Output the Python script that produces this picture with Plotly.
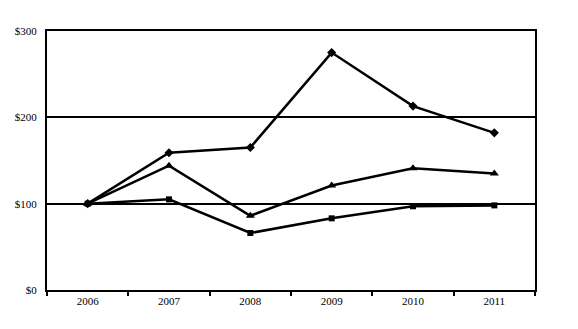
import plotly.graph_objects as go

years = ["2006", "2007", "2008", "2009", "2010", "2011"]
series_diamond = [100, 159, 165, 275, 213, 182]
series_triangle = [100, 144, 86, 121, 141, 135]
series_square = [100, 105, 66, 83, 97, 98]
y_ticks = [0, 100, 200, 300]
y_labels = ["$0", "$100", "$200", "$300"]

fig = go.Figure()
for vals, sym, size in [(series_diamond, "diamond", 7), (series_triangle, "triangle-up", 8), (series_square, "square", 6)]:
    fig.add_trace(go.Scatter(
        x=years, y=vals, mode="lines+markers",
        line=dict(color="black", width=2.5),
        marker=dict(symbol=sym, size=size, color="black"),
        showlegend=False, cliponaxis=False,
    ))

fig.update_layout(
    width=578, height=329,
    margin=dict(l=47, r=43, t=31, b=39),
    paper_bgcolor="white", plot_bgcolor="white",
    font=dict(family="Liberation Serif", size=11, color="black"),
    xaxis=dict(
        type="category", tickson="boundaries", ticks="outside", ticklen=4,
        tickcolor="black", tickwidth=2, showline=True, linecolor="black",
        linewidth=2, mirror=True, showgrid=False, zeroline=False,
        range=[-0.5, 5.5],
    ),
    yaxis=dict(
        range=[0, 300], tickvals=y_ticks, ticktext=y_labels,
        showgrid=True, gridcolor="black", gridwidth=2,
        showline=True, linecolor="black", linewidth=2, mirror=True,
        zeroline=False, ticks="", ticklabelstandoff=6,
    ),
)

fig.write_html("out.html")
